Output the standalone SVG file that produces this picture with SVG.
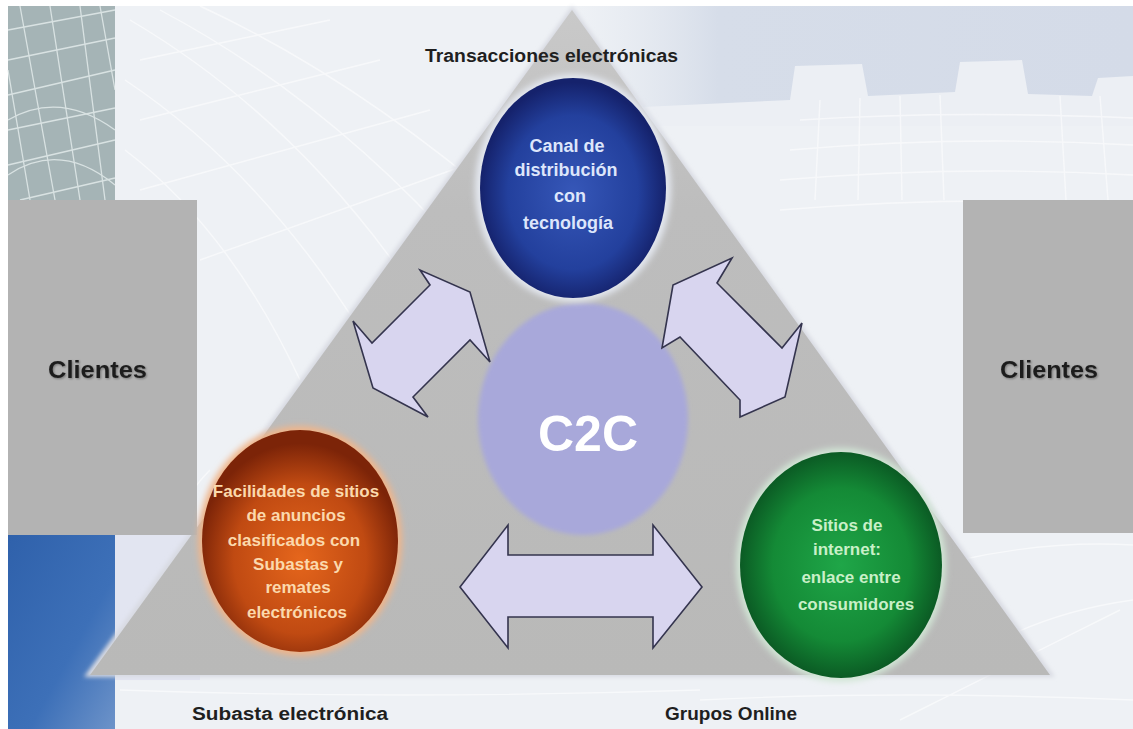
<svg xmlns="http://www.w3.org/2000/svg" width="1133" height="729" viewBox="0 0 1133 729">
  <defs>
    <style>
      .lbl{font-family:"Liberation Sans",Arial,sans-serif;font-weight:bold;fill:#1f1f1f}
      .in{font-family:"Liberation Sans",Arial,sans-serif;font-weight:bold;text-anchor:middle}
      .arrow{fill:#d8d5ef;stroke:#34344e;stroke-width:1.6;stroke-linejoin:miter}
      .box{fill:#b3b3b3}
      .mesh{fill:none;stroke:#ffffff;stroke-width:1.4;opacity:0.55}
    </style>
    <radialGradient id="gBlue" cx="50%" cy="52%" r="50%">
      <stop offset="0" stop-color="#3657b8"/>
      <stop offset="0.7" stop-color="#23409d"/>
      <stop offset="1" stop-color="#15226c"/>
    </radialGradient>
    <radialGradient id="gOrange" cx="50%" cy="58%" r="52%">
      <stop offset="0" stop-color="#e5661c"/>
      <stop offset="0.65" stop-color="#c04a12"/>
      <stop offset="1" stop-color="#7c2408"/>
    </radialGradient>
    <radialGradient id="gGreen" cx="50%" cy="50%" r="52%">
      <stop offset="0" stop-color="#1fa648"/>
      <stop offset="0.65" stop-color="#148a36"/>
      <stop offset="1" stop-color="#0a5522"/>
    </radialGradient>
    <linearGradient id="gSky" x1="0" y1="0" x2="1" y2="0">
      <stop offset="0" stop-color="#dfe5ee" stop-opacity="0"/>
      <stop offset="0.25" stop-color="#d6dde9"/>
      <stop offset="1" stop-color="#d4dbe8"/>
    </linearGradient>
    <linearGradient id="gPanelBlue" x1="0" y1="0" x2="1" y2="1">
      <stop offset="0" stop-color="#2f61ab"/>
      <stop offset="0.6" stop-color="#3d70b8"/>
      <stop offset="1" stop-color="#6d93c9"/>
    </linearGradient>
    <linearGradient id="gTri" x1="0" y1="0" x2="0" y2="1">
      <stop offset="0" stop-color="#c9c9c9"/>
      <stop offset="0.3" stop-color="#bdbdbd"/>
      <stop offset="1" stop-color="#b9b9b8"/>
    </linearGradient>
    <filter id="soft" x="-10%" y="-10%" width="120%" height="120%">
      <feGaussianBlur stdDeviation="2"/>
    </filter>
    <filter id="glow" x="-20%" y="-20%" width="140%" height="140%">
      <feGaussianBlur stdDeviation="3"/>
    </filter>
    <filter id="tshadow" x="-10%" y="-30%" width="120%" height="160%">
      <feGaussianBlur in="SourceAlpha" stdDeviation="1"/>
      <feOffset dx="1" dy="1"/>
      <feComponentTransfer><feFuncA type="linear" slope="0.35"/></feComponentTransfer>
      <feMerge><feMergeNode/><feMergeNode in="SourceGraphic"/></feMerge>
    </filter>
  </defs>

  <!-- backdrop -->
  <g id="backdrop">
    <rect width="1133" height="729" fill="#ffffff"/>
    <rect x="8" y="6" width="1125" height="723" fill="#eef1f5"/>
    <rect x="580" y="6" width="553" height="120" fill="url(#gSky)"/>
    <!-- city skyline -->
    <polygon points="580,126 580,110 790,100 795,66 862,64 868,96 955,92 960,62 1022,60 1028,94 1092,96 1098,78 1133,76 1133,126" fill="#eceff4"/>
    <g class="mesh">
      <path d="M800,120 Q950,110 1133,118 M790,150 Q960,135 1133,145 M780,180 Q960,165 1133,175 M780,210 Q960,195 1133,205"/>
      <path d="M820,100 L815,200 M860,98 L858,200 M900,96 L902,200 M940,95 L944,200 M1060,96 L1066,200 M1100,96 L1108,200"/>
      <path d="M130,20 Q300,120 420,300 M160,10 Q330,100 470,260 M200,6 Q360,80 520,220 M125,80 Q260,170 360,330 M125,150 Q230,230 300,380"/>
      <path d="M140,60 L330,20 M140,120 L380,60 M140,190 L430,110 M200,260 L480,160"/>
      <path d="M210,470 Q160,520 200,560 M120,690 Q400,700 700,690 M700,700 Q900,690 1133,700 M960,560 Q1050,540 1133,545 M1000,640 Q1060,610 1133,600 M900,720 L1120,610"/>
    </g>
    <!-- textured panel, upper left -->
    <rect x="8" y="6" width="107" height="194" fill="#a5b4b6"/>
    <g fill="none" stroke="#e6eeee" stroke-width="1.3" opacity="0.8">
      <path d="M8,30 L115,10 M8,60 L115,38 M8,95 L115,70 M8,130 L115,108 M8,165 L115,140 M20,200 L115,178"/>
      <path d="M20,6 L55,200 M50,6 L80,200 M80,6 L105,200 M8,70 L30,200 M100,6 L115,90"/>
      <path d="M8,120 Q60,90 115,130 M8,175 Q60,140 115,185"/>
    </g>
    <!-- blue panel, lower left -->
    <rect x="8" y="535" width="107" height="194" fill="url(#gPanelBlue)"/>
    <rect x="115" y="535" width="85" height="145" fill="#e2e5f1"/>
  </g>

  <!-- central triangle -->
  <g id="triangle">
    <polygon points="572,6 1055,677 84,677" fill="#d8dae2" filter="url(#soft)"/>
    <polygon points="572,10 1050,675 90,675" fill="url(#gTri)"/>
  </g>

  <!-- client boxes -->
  <g id="clientes-izq">
    <rect class="box" x="8" y="200" width="189" height="335"/>
    <text class="lbl" x="48" y="378" font-size="24" textLength="99" lengthAdjust="spacingAndGlyphs" filter="url(#tshadow)">Clientes</text>
  </g>
  <g id="clientes-der">
    <rect class="box" x="963" y="200" width="170" height="333"/>
    <text class="lbl" x="1000" y="378" font-size="24" textLength="98" lengthAdjust="spacingAndGlyphs" filter="url(#tshadow)">Clientes</text>
  </g>

  <!-- corner labels -->
  <g id="etiquetas">
    <text class="lbl" x="425" y="62" font-size="18" textLength="253" lengthAdjust="spacingAndGlyphs">Transacciones electrónicas</text>
    <text class="lbl" x="192" y="720" font-size="18" textLength="196" lengthAdjust="spacingAndGlyphs">Subasta electrónica</text>
    <text class="lbl" x="665" y="720" font-size="18" textLength="132" lengthAdjust="spacingAndGlyphs">Grupos Online</text>
  </g>

  <!-- C2C hub -->
  <g id="c2c">
    <ellipse cx="583" cy="419" rx="105" ry="116" fill="#a8a8da" filter="url(#soft)"/>
    <text class="in" x="588" y="451" font-size="50" fill="#ffffff" textLength="100" lengthAdjust="spacingAndGlyphs">C2C</text>
  </g>

  <!-- electronic transactions node -->
  <g id="canal">
    <ellipse cx="573" cy="188" rx="98" ry="114" fill="#e4e8f0" filter="url(#glow)"/>
    <ellipse cx="573" cy="188" rx="93" ry="110" fill="url(#gBlue)"/>
    <g class="in" fill="#dde6fb" font-size="18">
      <text x="567" y="152">Canal de</text>
      <text x="566" y="176">distribución</text>
      <text x="570" y="202">con</text>
      <text x="568" y="229">tecnología</text>
    </g>
  </g>

  <!-- auction node -->
  <g id="subasta">
    <ellipse cx="300" cy="541" rx="102" ry="115" fill="#f0b58a" filter="url(#glow)"/>
    <ellipse cx="300" cy="541" rx="98" ry="111" fill="url(#gOrange)"/>
    <g class="in" fill="#fbd9ad" font-size="17">
      <text x="296" y="497">Facilidades de sitios</text>
      <text x="296" y="521">de anuncios</text>
      <text x="294" y="546">clasificados con</text>
      <text x="298" y="570">Subastas y</text>
      <text x="298" y="593">remates</text>
      <text x="297" y="618">electrónicos</text>
    </g>
  </g>

  <!-- online groups node -->
  <g id="grupos">
    <ellipse cx="841" cy="565" rx="105" ry="117" fill="#d2e6d6" filter="url(#glow)"/>
    <ellipse cx="841" cy="565" rx="101" ry="113" fill="url(#gGreen)"/>
    <g class="in" fill="#c9f0c8" font-size="17">
      <text x="847" y="531">Sitios de</text>
      <text x="847" y="555">internet:</text>
      <text x="851" y="583">enlace entre</text>
      <text x="856" y="610">consumidores</text>
    </g>
  </g>

  <!-- double arrows between nodes -->
  <g id="conectores">
    <polygon class="arrow" points="353,321 372,343 430,285 420,270 470,292 490,362 470,340 413,397 428,417 373,388"/>
    <polygon class="arrow" points="732,258 717,283 782,348 802,323 785,397 740,417 740,400 680,337 662,348 673,285"/>
    <polygon class="arrow" points="460,587 508,525 508,555 653,555 653,525 702,587 653,648 653,617 508,617 508,648"/>
  </g>
</svg>
